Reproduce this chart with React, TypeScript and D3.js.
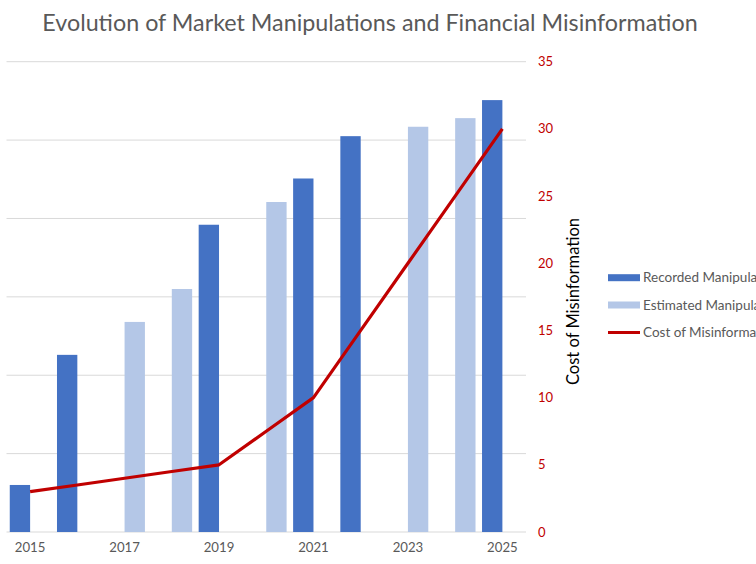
import React from 'react';
import * as d3 from 'd3';

const years = [2015, 2016, 2017, 2018, 2019, 2020, 2021, 2022, 2023, 2024, 2025];
const recorded: (number | null)[] = [6.0, 22.6, null, null, 39.2, null, 45.1, 50.5, null, null, 55.1];
const estimated: (number | null)[] = [null, null, 26.8, 31.0, null, 42.1, null, null, 51.7, 52.8, null];
const cost = [3, 3.5, 4, 4.5, 5, 7.5, 10, 15, 20, 25, 30];
const leftTicks = [0, 10, 20, 30, 40, 50, 60];
const rightTicks = [0, 5, 10, 15, 20, 25, 30, 35];
const xLabelYears = [2015, 2017, 2019, 2021, 2023, 2025];
const seriesNames = ['Recorded Manipulations', 'Estimated Manipulations', 'Cost of Misinformation'];

const W = 756;
const H = 564;
const FONT = 'Lato, "Open Sans", sans-serif';
const DARK = '#4472C4';
const LIGHT = '#B4C7E7';
const RED = '#C00000';
const GRAY = '#595959';

export default function App() {
  const plotL = 6.5;
  const plotR = 526;
  const plotT = 61.7;
  const plotB = 532;

  const x = d3.scaleBand<number>().domain(years).range([plotL, plotR]).paddingInner(0).paddingOuter(0);
  const x1 = d3.scaleBand<string>().domain(['rec', 'est']).range([0, x.bandwidth()]).paddingInner(0).paddingOuter(0.16);
  const yL = d3.scaleLinear().domain([0, 60]).range([plotB, plotT]);
  const yR = d3.scaleLinear().domain([0, 35]).range([plotB, plotT]);

  const line = d3
    .line<number>()
    .x((_, i) => (x(years[i]) as number) + x.bandwidth() / 2)
    .y((d) => yR(d));

  const bars: { key: string; x: number; y: number; w: number; h: number; c: string }[] = [];
  years.forEach((yr, i) => {
    const r = recorded[i];
    const e = estimated[i];
    if (r != null) {
      bars.push({ key: 'r' + yr, x: (x(yr) as number) + (x1('rec') as number), y: yL(r), w: x1.bandwidth(), h: plotB - yL(r), c: DARK });
    }
    if (e != null) {
      bars.push({ key: 'e' + yr, x: (x(yr) as number) + (x1('est') as number), y: yL(e), w: x1.bandwidth(), h: plotB - yL(e), c: LIGHT });
    }
  });

  const legendX = 608;
  const legendY = [277.7, 305, 332.5];

  return (
    <div style={{ position: 'fixed', left: 0, top: 0, width: W, height: H, overflow: 'hidden', background: '#fff' }}>
      <svg width={W} height={H} style={{ display: 'block', fontFamily: FONT }}>
        <rect x={0} y={0} width={W} height={H} fill="#fff" />
        <text x={370} y={31} textAnchor="middle" fontSize={23.3} fill={GRAY}>
          Evolution of Market Manipulations and Financial Misinformation
        </text>
        {leftTicks.map((t) => (
          <line key={'g' + t} x1={plotL} x2={plotR} y1={yL(t)} y2={yL(t)} stroke="#D9D9D9" strokeWidth={1} />
        ))}
        {bars.map((b) => (
          <rect key={b.key} x={b.x} y={b.y} width={b.w} height={b.h} fill={b.c} />
        ))}
        <path d={line(cost) || ''} fill="none" stroke={RED} strokeWidth={3.2} strokeLinejoin="round" />
        {xLabelYears.map((yr) => (
          <text key={'x' + yr} x={(x(yr) as number) + x.bandwidth() / 2} y={552} textAnchor="middle" fontSize={13.2} fill={GRAY}>
            {yr}
          </text>
        ))}
        {rightTicks.map((t) => (
          <text key={'r' + t} x={538} y={yR(t)} dy="0.35em" fontSize={13} fill={RED}>
            {t}
          </text>
        ))}
        <text transform={`translate(579,301.5) rotate(-90)`} textAnchor="middle" fontSize={16.5} fill="#000">
          Cost of Misinformation
        </text>
        <rect x={legendX} y={legendY[0] - 3.5} width={32} height={7} fill={DARK} />
        <rect x={legendX} y={legendY[1] - 3.5} width={32} height={7} fill={LIGHT} />
        <line x1={legendX} x2={legendX + 32} y1={legendY[2]} y2={legendY[2]} stroke={RED} strokeWidth={3} />
        {seriesNames.map((n, i) => (
          <text key={n} x={643} y={legendY[i]} dy="0.35em" fontSize={13.5} fill={GRAY}>
            {n}
          </text>
        ))}
      </svg>
    </div>
  );
}
